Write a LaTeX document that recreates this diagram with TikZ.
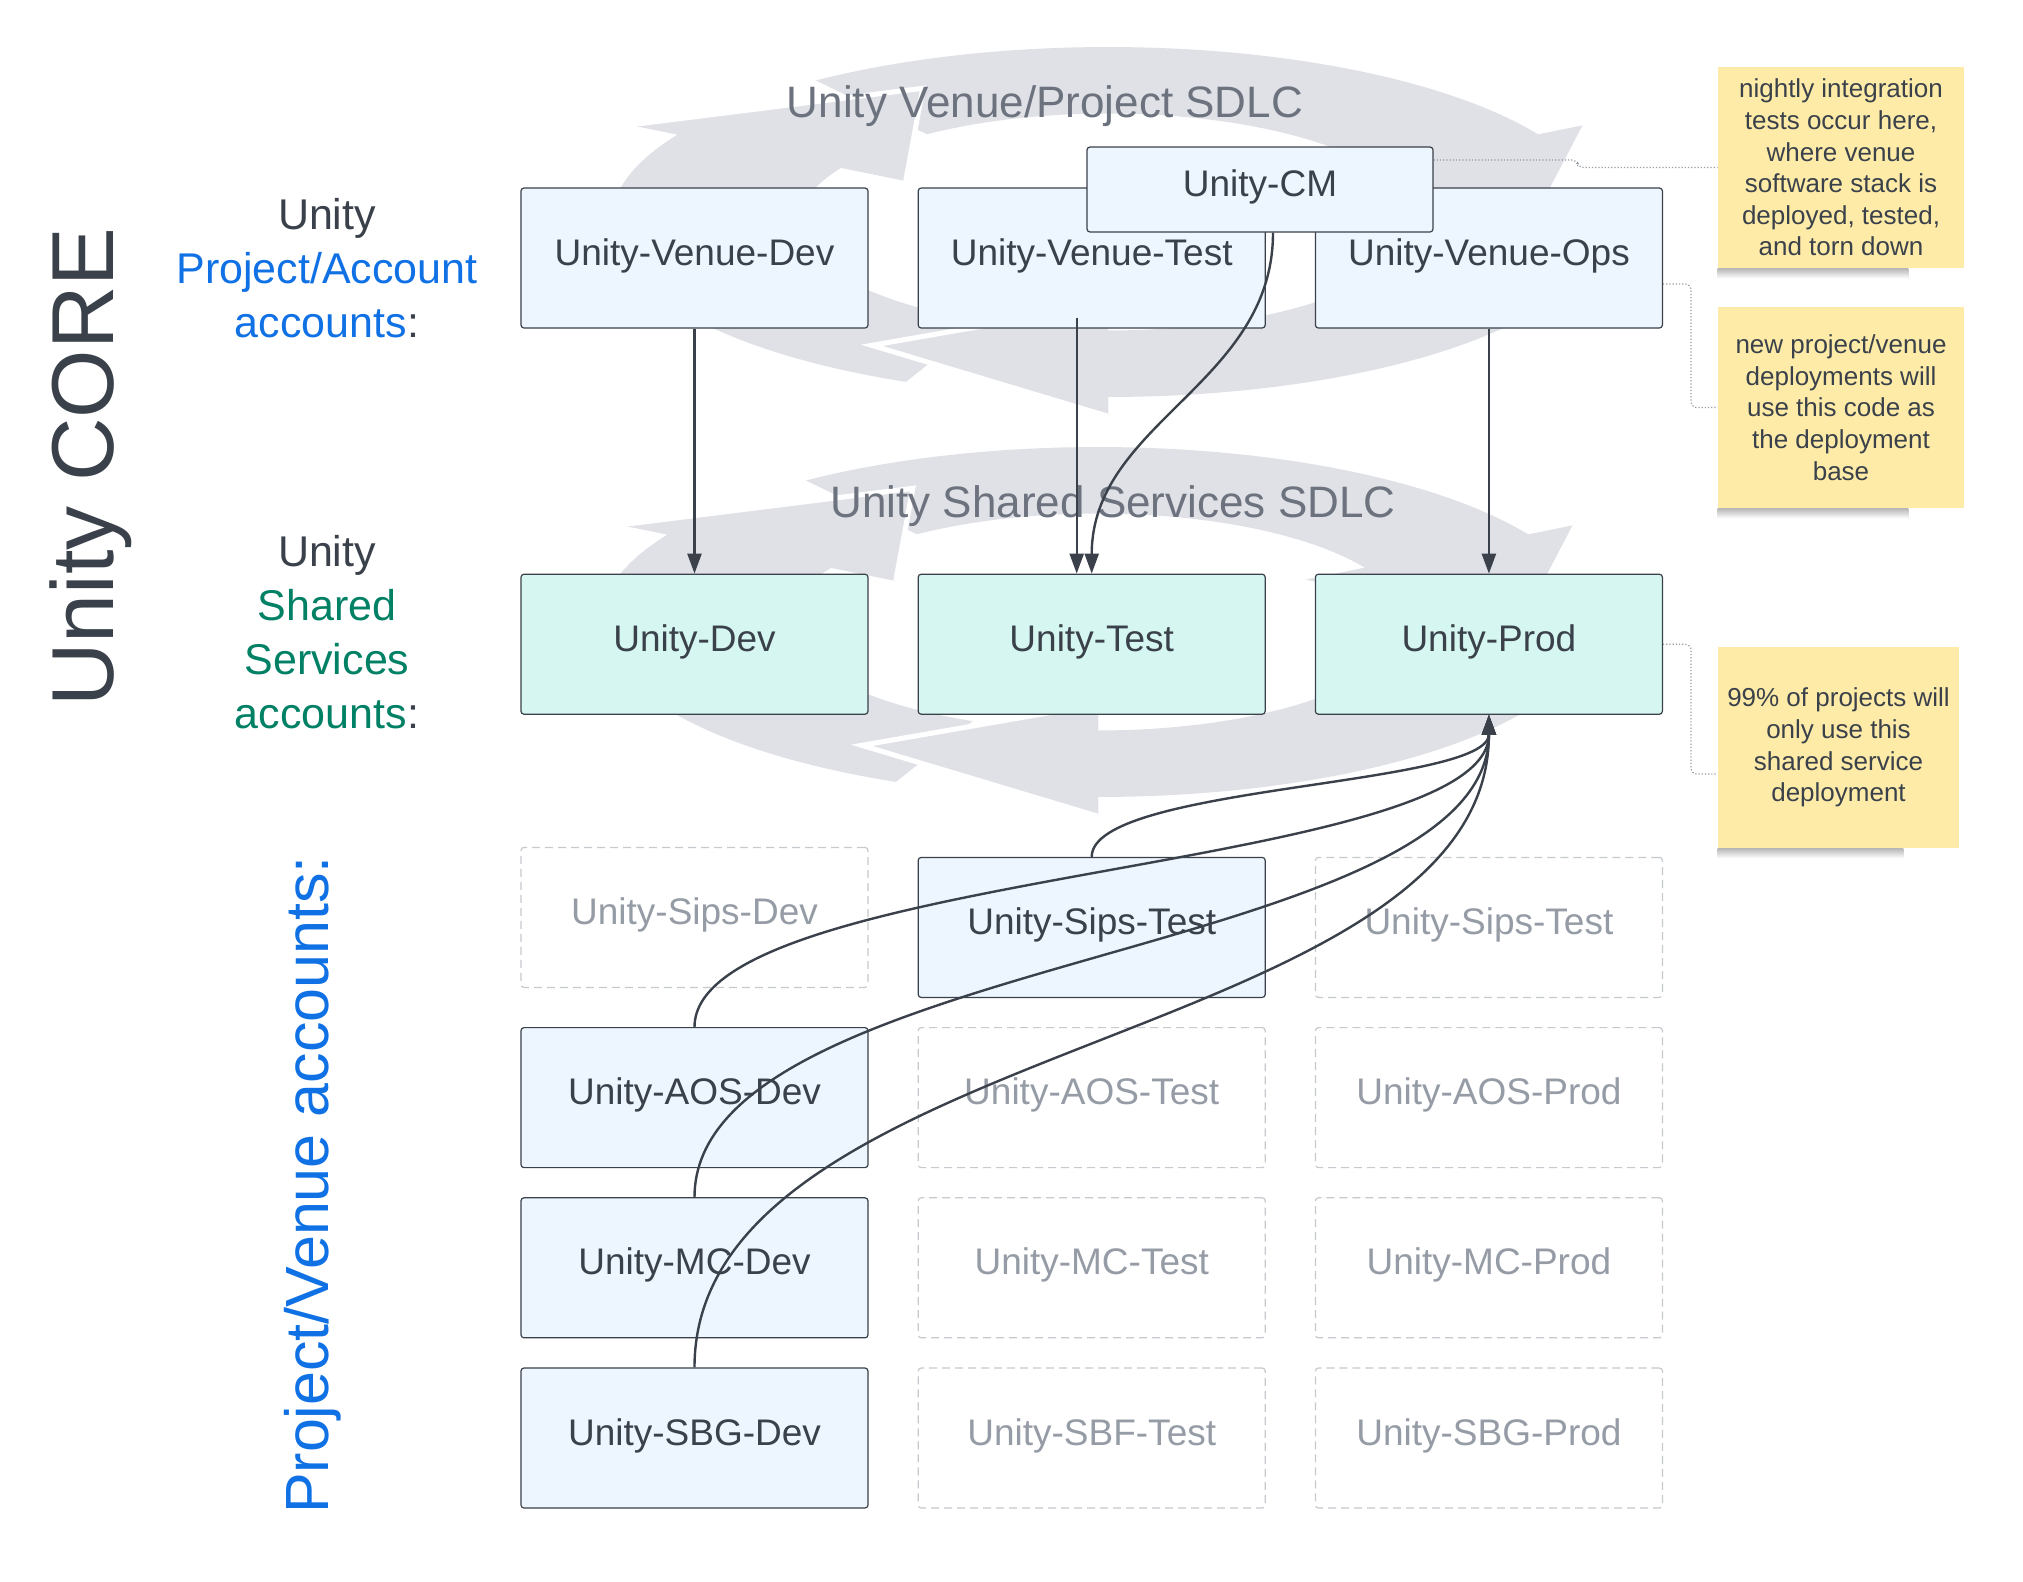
\documentclass[tikz,border=0pt]{standalone}
\usepackage{fontspec}
\setmainfont{Liberation Sans}
\usetikzlibrary{positioning,arrows.meta}
\definecolor{ink}{RGB}{58,65,74}
\definecolor{paleblue}{RGB}{237,245,255}
\definecolor{mint}{RGB}{214,247,241}
\definecolor{ghostline}{RGB}{198,201,206}
\definecolor{ghosttext}{RGB}{150,156,166}
\definecolor{cycgray}{RGB}{223,225,230}
\definecolor{sdlcgray}{RGB}{108,114,126}
\definecolor{lblue}{RGB}{16,113,229}
\definecolor{lgreen}{RGB}{0,128,100}
\definecolor{sticky}{RGB}{254,235,168}
\definecolor{memoline}{RGB}{150,155,162}
\begin{document}
\begin{tikzpicture}
[x=0.5pt,y=-0.5pt,node distance=24.5pt,
acct/.style={draw=ink,fill=paleblue,text=ink,line width=0.6pt,rounded corners=1.5pt,minimum width=173.5pt,minimum height=70pt,text height=13.5pt,text depth=6.5pt,font=\fontsize{18.5}{22}\selectfont},
shared/.style={acct,fill=mint},
ghost/.style={acct,draw=ghostline,fill=none,text=ghosttext,dash pattern=on 4pt off 2.5pt},
note/.style={fill=sticky,text=ink,align=center,minimum width=123pt,minimum height=100.5pt,font=\fontsize{13}{15.8}\selectfont},
link/.style={draw=ink,line width=1.2pt,-{Triangle[length=10pt,width=7pt]}},
memo/.style={draw=memoline,line width=0.6pt,densely dotted,rounded corners=3pt},
cyc/.style={fill=cycgray},
sdlc/.style={text=sdlcgray,font=\fontsize{22}{26}\selectfont,anchor=base}]
\fill[white] (0,0) rectangle (2023,1581);
% cycle arrows behind the two rows
\foreach \cx/\cy in {1108/222,1098/622}{
\begin{scope}[shift={(\cx,\cy)},x=248.5pt,y=87.5pt]
\foreach \n [evaluate=\n as \t using \n+96, evaluate=\n as \p using \n-34] in {150,270,30}
\fill[cyc] plot[domain=\t:\n,samples=40] (\x:1) -- (\n:1.11) -- (\p:0.85) -- (\n:0.47) -- plot[domain=\n:\t,samples=40] (\x:0.62) -- cycle;
\foreach \n [evaluate=\n as \p using \n-34] in {150,270,30}{
\fill[cyc] (\n:1.11) -- (\p:0.85) -- (\n:0.47) -- cycle;
\draw[white,line width=2.5pt] (\n:1.11) -- (\p:0.85) -- (\n:0.47);}
\end{scope}}
\node[sdlc] (sdlcvenue) at (1045,117) {Unity Venue/Project SDLC};
\node[sdlc] (sdlcshared) at (1113,517) {Unity Shared Services SDLC};
\node[acct] (vdev) at (694.5,258) {Unity-Venue-Dev};
\node[acct,right=of vdev] (vtest) {Unity-Venue-Test};
\node[acct,right=of vtest] (vops) {Unity-Venue-Ops};
\node[acct,minimum width=173pt,minimum height=42.5pt] (cm) at (1260,189.5) {Unity-CM};
\node[shared,below=122.5pt of vdev] (dev) {Unity-Dev};
\node[shared,right=of dev] (test) {Unity-Test};
\node[shared,right=of test] (prod) {Unity-Prod};
\node[acct,below=71pt of test] (sipstest) {Unity-Sips-Test};
\node[ghost,left=of sipstest,yshift=5pt] (sipsdev) {Unity-Sips-Dev};
\node[ghost,right=of sipstest] (sipsprod) {Unity-Sips-Test};
\node[ghost,below=14.5pt of sipstest] (aostest) {Unity-AOS-Test};
\node[acct,left=of aostest] (aosdev) {Unity-AOS-Dev};
\node[ghost,right=of aostest] (aosprod) {Unity-AOS-Prod};
\node[ghost,below=14.5pt of aostest] (mctest) {Unity-MC-Test};
\node[acct,left=of mctest] (mcdev) {Unity-MC-Dev};
\node[ghost,right=of mctest] (mcprod) {Unity-MC-Prod};
\node[ghost,below=14.5pt of mctest] (sbftest) {Unity-SBF-Test};
\node[acct,left=of sbftest] (sbgdev) {Unity-SBG-Dev};
\node[ghost,right=of sbftest] (sbgprod) {Unity-SBG-Prod};
\node[note] (n1) at (1841,167.5) {nightly integration\\tests occur here,\\where venue\\software stack is\\deployed, tested,\\and torn down};
\node[note] (n2) at (1841,407.5) {new project/venue\\deployments will\\use this code as\\the deployment\\base};
\node[note,minimum width=120.5pt] (n3) at (1838.5,747.5) {99\% of projects will\\only use this\\shared service\\deployment};
\foreach \m in {n1,n2,n3}
\shade[top color=black!28,bottom color=white] (\m.south west) rectangle ([xshift=-28pt,yshift=-5pt]\m.south east);
\node[text=ink,font=\fontsize{44}{50}\selectfont,rotate=90,anchor=base] (core) at (113,467) {Unity CORE};
\node[text=lblue,font=\fontsize{30.5}{36}\selectfont,rotate=90,anchor=base] (venueacc) at (328,1185) {Project/Venue accounts:};
\node[text=ink,align=center,font=\fontsize{21.5}{27}\selectfont] (projacc) at (327,268) {Unity\\\textcolor{lblue}{Project/Account}\\\textcolor{lblue}{accounts}:};
\node[text=ink,align=center,font=\fontsize{21.5}{27}\selectfont] (sharedacc) at (327,632) {Unity\\\textcolor{lgreen}{Shared}\\\textcolor{lgreen}{Services}\\\textcolor{lgreen}{accounts}:};
\draw[link] (vdev) -- (dev);
\draw[link] ([xshift=-7.5pt,yshift=5.5pt]vtest.south) -- ([xshift=-7.5pt]test.north);
\draw[link] (vops) -- (prod);
\draw[link] ([xshift=6.5pt]cm.south) to[out=-90,in=90] (test.north);
\foreach \src/\len in {sipstest/72,aosdev/158,mcdev/245,sbgdev/331}
\draw[link] (\src.north) .. controls +(0,-\len) and +(0,\len) .. (prod.south);
\draw[memo] ([yshift=14.75pt]cm.east) -- ++(72pt,0) |- (n1.west);
\draw[memo] ([yshift=-13pt]vops.east) -- ++(14pt,0) |- (n2.west);
\draw[memo] (prod.east) -- ++(14pt,0) |- ([yshift=-13.25pt]n3.west);
\end{tikzpicture}
\end{document}
